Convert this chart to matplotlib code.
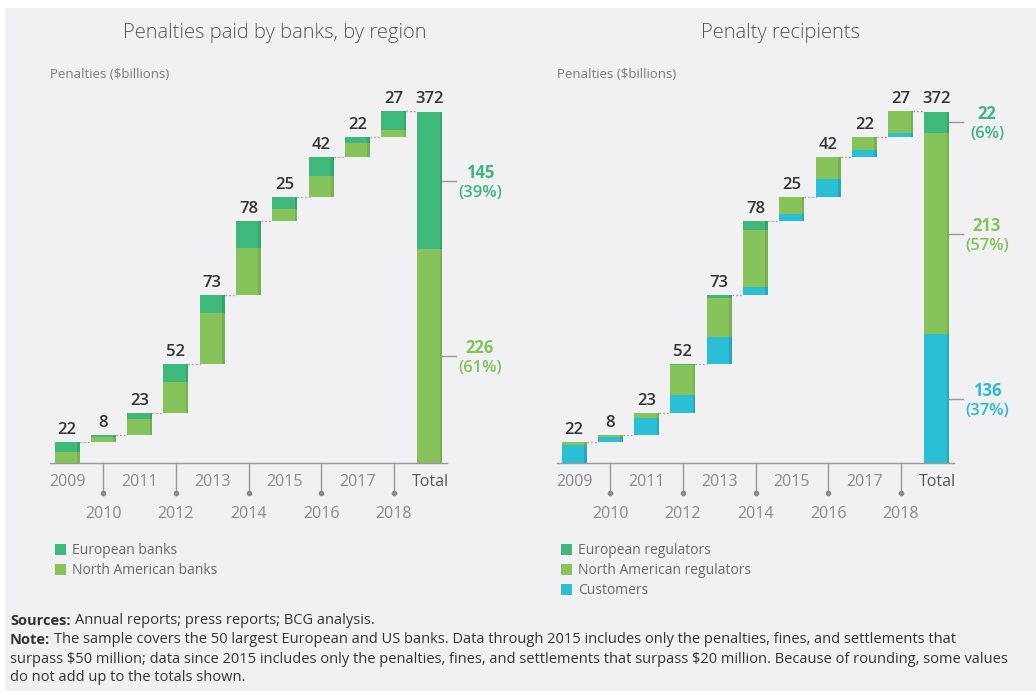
import matplotlib
matplotlib.use("Agg")
import matplotlib.pyplot as plt
from matplotlib.patches import Rectangle
import numpy as np

plt.rcParams['font.family'] = ['Open Sans', 'DejaVu Sans']

# ---------------- data ----------------
years = ["2009", "2010", "2011", "2012", "2013", "2014", "2015", "2016", "2017", "2018"]
totals_by_year = [22, 8, 23, 52, 73, 78, 25, 42, 22, 27]
grand_total = 372

# left panel: by region
region_labels = ["European banks", "North American banks"]
eu_banks = [10, 3, 6, 19, 19, 29, 12, 20, 7, 20]
na_banks = [12, 5, 17, 33, 54, 49, 13, 22, 15, 7]
region_total_values = [145, 226]
region_total_pct = ["39%", "61%"]

# right panel: by recipient
recipient_labels = ["European regulators", "North American regulators", "Customers"]
eu_regulators = [0, 0, 0, 1, 4, 10, 0, 0, 0, 0]
na_regulators = [3, 2, 5, 32, 41, 60, 18, 23, 14, 23]
customers = [19, 6, 18, 19, 28, 8, 7, 19, 8, 4]
recipient_total_values = [22, 213, 136]
recipient_total_pct = ["6%", "57%", "37%"]

# ---------------- style ----------------
BG = "#f1f1f3"
C_EU = "#3fb87c"
C_NA = "#86c45b"
C_CU = "#2bbfd6"
E_EU = "#35a56d"
E_NA = "#76b24f"
E_CU = "#24a9bf"
LBL_EU = "#3fb57e"
LBL_NA = "#84c25a"
LBL_CU = "#2bbad4"

W, H = 1036, 692
fig = plt.figure(figsize=(W / 100, H / 100), dpi=100, facecolor=BG)

def fx(px):
    return px / W

def fy(py):
    return 1 - py / H

# white margins at top/left like the reference
fig.patches.append(Rectangle((0, fy(8)), 1, 8 / H, transform=fig.transFigure,
                             facecolor="white", edgecolor="none", zorder=0))
fig.patches.append(Rectangle((0, 0), 5 / W, 1, transform=fig.transFigure,
                             facecolor="white", edgecolor="none", zorder=0))
fig.patches.append(Rectangle((0, 0), 1, 1.5 / H, transform=fig.transFigure,
                             facecolor="white", edgecolor="none", zorder=0))

PXU = 0.946          # pixels per billion
BASE_PX = 463
YMAX = 400
BW = 0.69
EDGE = 0.07


def make_axes(left_px):
    ax = fig.add_axes([fx(left_px), fy(BASE_PX), 397 / W, (YMAX * PXU) / H])
    ax.set_xlim(-0.47, 10.47)
    ax.set_ylim(0, YMAX)
    ax.set_facecolor("none")
    for s in ax.spines.values():
        s.set_visible(False)
    ax.set_xticks([])
    ax.set_yticks([])
    return ax


def dpx(p):
    return p / PXU


def draw_panel(ax, layers, colors, edges, tot_layers, tot_values, tot_pct, lbl_colors):
    n = len(years)
    xs = np.arange(n + 1)
    tops = np.cumsum(totals_by_year)
    starts = tops - np.array(totals_by_year)
    # yearly stacked floating bars
    for i in range(n):
        b = starts[i]
        for layer, c, e in zip(layers, colors, edges):
            h = layer[i]
            if h <= 0:
                continue
            ax.bar(xs[i], h, bottom=b, width=BW, color=c, edgecolor="none", zorder=3)
            ax.bar(xs[i] + BW / 2 - EDGE / 2, h, bottom=b, width=EDGE, color=e,
                   edgecolor="none", zorder=3.5)
            b += h
        ax.text(xs[i], tops[i] + dpx(4), str(totals_by_year[i]), ha="center", va="bottom",
                fontsize=12, fontweight="semibold", color="#333333", zorder=5)
    # total bar
    b = 0
    tot_x = xs[n]
    mids = []
    for h, c, e in zip(tot_layers, colors, edges):
        ax.bar(tot_x, h, bottom=b, width=BW, color=c, edgecolor="none", zorder=3)
        ax.bar(tot_x + BW / 2 - EDGE / 2, h, bottom=b, width=EDGE, color=e,
               edgecolor="none", zorder=3.5)
        mids.append(b + h / 2)
        b += h
    ax.text(tot_x, grand_total + dpx(4), str(grand_total), ha="center", va="bottom",
            fontsize=12, fontweight="semibold", color="#333333", zorder=5)
    # connectors
    levels = list(tops)
    for i in range(n):
        ax.plot([xs[i] + BW / 2, xs[i + 1] - BW / 2], [levels[i], levels[i]],
                linestyle=(0, (1.2, 1.8)), color="#9a9a9a", lw=0.9, zorder=2)
    # baseline
    ax.plot([-0.47, 10.47], [0, 0], color="#9a9a9a", lw=1.0, zorder=4, clip_on=False)
    # x labels
    for i, yr in enumerate(years):
        if i % 2 == 0:
            ax.text(xs[i], -dpx(19), yr, ha="center", va="center", fontsize=11.5,
                    color="#8a8a8a")
        else:
            ax.plot([xs[i], xs[i]], [0, -dpx(30)], color="#9a9a9a", lw=1.0,
                    clip_on=False, zorder=4)
            ax.plot([xs[i]], [-dpx(30)], marker="o", ms=3, color="#8a8a8a",
                    clip_on=False, zorder=4)
            ax.text(xs[i], -dpx(51), yr, ha="center", va="center", fontsize=11.5,
                    color="#8a8a8a")
    ax.text(tot_x, -dpx(19), "Total", ha="center", va="center", fontsize=11.5,
            color="#555555")
    # right-side annotations (stack order bottom->top; labels match)
    for m, v, p, lc in zip(mids, tot_values, tot_pct, lbl_colors):
        ax.plot([tot_x + BW / 2, tot_x + BW / 2 + 0.36], [m, m], color="#9a9a9a",
                lw=1.0, clip_on=False, zorder=4)
        ax.text(11.38, m + dpx(8), str(v), ha="center", va="center", fontsize=12,
                fontweight="bold", color=lc)
        ax.text(11.38, m - dpx(12), "(" + p + ")", ha="center", va="center",
                fontsize=12, fontweight="semibold", color=lc)


axL = make_axes(50)
draw_panel(axL, [na_banks, eu_banks], [C_NA, C_EU], [E_NA, E_EU],
           [region_total_values[1], region_total_values[0]],
           [region_total_values[1], region_total_values[0]],
           [region_total_pct[1], region_total_pct[0]], [LBL_NA, LBL_EU])

axR = make_axes(557)
draw_panel(axR, [customers, na_regulators, eu_regulators], [C_CU, C_NA, C_EU],
           [E_CU, E_NA, E_EU],
           [recipient_total_values[2], recipient_total_values[1], recipient_total_values[0]],
           [recipient_total_values[2], recipient_total_values[1], recipient_total_values[0]],
           [recipient_total_pct[2], recipient_total_pct[1], recipient_total_pct[0]],
           [LBL_CU, LBL_NA, LBL_EU])

# titles
fig.text(fx(275), fy(33), "Penalties paid by banks, by region", ha="center", va="center",
         fontsize=14.5, fontweight="light", color="#555555")
fig.text(fx(781), fy(33), "Penalty recipients", ha="center", va="center",
         fontsize=14.5, fontweight="light", color="#555555")
fig.text(fx(50), fy(75), "Penalties (\\$billions)", ha="left", va="center",
         fontsize=9.5, color="#7a7a7a")
fig.text(fx(557), fy(75), "Penalties (\\$billions)", ha="left", va="center",
         fontsize=9.5, color="#7a7a7a")

# legends
def legend(x_px, labels, colors):
    for k, (lab, c) in enumerate(zip(labels, colors)):
        yc = 549 + 20 * k
        fig.patches.append(Rectangle((fx(x_px), fy(yc + 5.5)), 11 / W, 11 / H,
                                     transform=fig.transFigure, facecolor=c,
                                     edgecolor="none"))
        fig.text(fx(x_px + 17), fy(yc + 2), lab, ha="left", va="center", fontsize=10,
                 color="#6a6a6a")

legend(55, region_labels, [C_EU, C_NA])
legend(561, recipient_labels, [C_EU, C_NA, C_CU])

# footnotes
FN = 10.55
t1 = fig.text(fx(10), fy(625), "Sources:", ha="left", va="baseline", fontsize=FN,
              fontweight="bold", color="#333333")
plt.annotate("Annual reports; press reports; BCG analysis.", xy=(1, 0),
             xycoords=t1, xytext=(3, 0), textcoords="offset points",
             va="bottom", ha="left", fontsize=FN, color="#333333",
             annotation_clip=False)
t2 = fig.text(fx(10), fy(644), "Note:", ha="left", va="baseline", fontsize=FN,
              fontweight="bold", color="#333333")
plt.annotate("The sample covers the 50 largest European and US banks. Data through 2015 "
             "includes only the penalties, fines, and settlements that",
             xy=(1, 0), xycoords=t2, xytext=(3, 0), textcoords="offset points",
             va="bottom", ha="left", fontsize=FN,
             color="#333333", annotation_clip=False)
fig.text(fx(10), fy(663), "surpass \\$50 million; data since 2015 includes only the penalties, "
         "fines, and settlements that surpass \\$20 million. Because of rounding, some values",
         ha="left", va="baseline", fontsize=FN, color="#333333")
fig.text(fx(10), fy(681), "do not add up to the totals shown.", ha="left", va="baseline",
         fontsize=FN, color="#333333")

fig.savefig("out.png", dpi=100, facecolor=BG)
